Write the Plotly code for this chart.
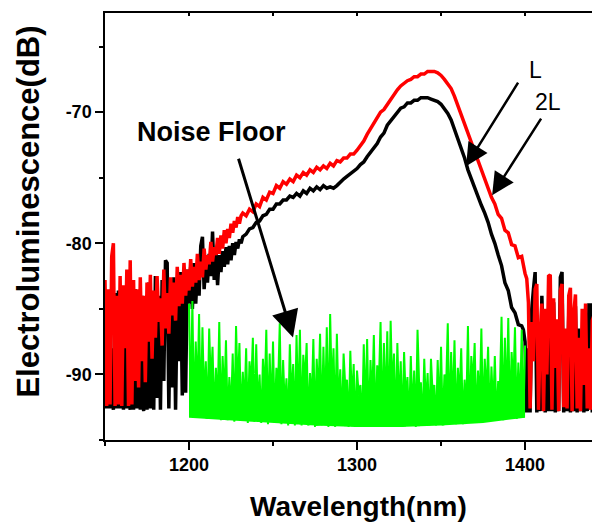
import numpy as np
import plotly.graph_objects as go

# ---------------- data ----------------
# red curve ("2L"), noisy left part 1150..1231 nm, 1 nm step
red_left = [-82.8, -92.4, -83.5, -92.3, -81.0, -80.0, -92.4, -84.0, -92.3, -82.5,
            -92.4, -83.2, -88.0, -82.0, -92.4, -81.3, -92.3, -82.8, -90.5, -83.5,
            -91.0, -82.6, -89.0, -84.0, -90.6, -83.0, -87.5, -82.4, -88.8, -83.6,
            -87.2, -82.5, -86.0, -84.2, -87.8, -82.0, -86.5, -83.8, -86.9, -82.6,
            -85.5, -83.0, -85.9, -81.8, -84.8, -82.4, -84.6, -81.5, -84.0, -82.0,
            -83.6, -81.2, -83.3, -81.8, -83.0, -80.8, -82.8, -81.4, -82.6, -80.4,
            -82.0, -80.9, -81.6, -79.9, -81.4, -80.3, -80.9, -79.6, -80.8, -79.4,
            -80.4, -79.0, -80.0, -78.9, -79.6, -78.5, -79.2, -78.3, -78.8, -78.0,
            -78.5, -77.9]
# red smooth part 1232..1398 nm, 2 nm step
red_mid = [-77.7, -77.9, -77.4, -77.6, -77.0, -77.2, -76.5, -76.7, -76.1, -76.2,
           -75.6, -75.8, -75.3, -75.5, -75.1, -75.3, -74.8, -75.0, -74.6, -74.8,
           -74.4, -74.6, -74.2, -74.4, -74.1, -74.3, -73.9, -74.1, -73.7, -73.8,
           -73.5, -73.5, -73.2, -73.2, -72.9, -72.6, -72.2, -71.7, -71.3, -70.8,
           -70.5, -70.0, -69.8, -69.4, -69.0, -68.6, -68.3, -68.0, -67.8, -67.6,
           -67.5, -67.3, -67.3, -67.1, -67.1, -66.9, -66.9, -66.9, -67.0, -67.2,
           -67.5, -67.8, -68.2, -68.8, -69.5, -70.2, -70.9, -71.6, -72.3, -73.0,
           -73.8, -74.5, -75.2, -75.9, -76.5, -77.0, -77.8, -78.1, -79.0, -79.2,
           -80.1, -80.2, -81.1, -81.0]
# red noisy right part 1399..1445 nm, 1 nm step
red_right = [-81.8, -82.3, -82.7, -84.5, -92.6, -86.0, -89.0, -83.5, -83.1, -92.7,
             -87.0, -84.6, -92.8, -85.0, -90.0, -82.5, -82.4, -92.7, -84.2, -89.5,
             -85.8, -92.8, -83.6, -83.1, -92.5, -86.5, -92.6, -84.0, -83.4, -92.8,
             -85.3, -83.9, -92.6, -87.2, -92.8, -85.0, -90.8, -84.6, -92.6, -88.0,
             -92.7, -85.9, -85.5, -92.7, -86.4, -92.5, -83.6]

# black curve ("L")
black_left = [-86.0, -92.6, -84.5, -92.6, -88.0, -92.7, -83.8, -92.6, -83.6, -92.6,
              -85.5, -92.7, -84.2, -92.6, -87.0, -92.7, -85.0, -92.7, -83.5, -92.6,
              -86.2, -92.7, -84.0, -92.8, -85.5, -92.7, -83.0, -92.6, -84.8, -92.7,
              -82.5, -91.8, -84.0, -92.7, -82.8, -90.5, -81.3, -81.5, -92.6, -83.5,
              -91.0, -82.6, -92.7, -84.0, -89.0, -82.2, -91.6, -83.0, -91.4, -82.0,
              -84.6, -81.8, -85.0, -81.5, -84.6, -81.9, -84.0, -80.2, -79.5, -83.5,
              -81.5, -83.0, -80.8, -82.5, -79.1, -82.8, -80.6, -83.2, -80.9, -82.2,
              -80.6, -81.8, -80.3, -81.6, -80.2, -81.3, -80.0, -80.9, -79.9, -80.4,
              -79.7, -80.0]
black_mid = [-79.5, -79.3, -78.9, -78.8, -78.4, -78.3, -77.9, -77.8, -77.4, -77.4,
             -77.0, -77.0, -76.7, -76.7, -76.4, -76.5, -76.2, -76.4, -76.0, -76.2,
             -75.8, -76.0, -75.7, -75.9, -75.6, -75.8, -75.7, -75.8, -75.6, -75.3,
             -75.1, -74.9, -74.7, -74.5, -74.3, -74.0, -73.8, -73.4, -73.1, -72.7,
             -72.4, -71.9, -71.6, -71.0, -70.7, -70.3, -70.1, -69.7, -69.6, -69.3,
             -69.3, -69.1, -69.1, -68.9, -68.9, -68.9, -69.0, -69.1, -69.2, -69.4,
             -69.7, -70.1, -70.6, -71.3, -72.1, -72.8, -73.5, -74.4, -75.1, -75.8,
             -76.5, -77.1, -77.7, -78.4, -79.3, -80.0, -80.9, -81.7, -83.0, -83.6,
             -84.9, -85.3, -86.2, -86.3]
black_right = [-86.6, -87.5, -92.9, -88.0, -92.9, -85.0, -83.5, -82.2, -92.9, -86.5,
               -92.8, -84.0, -89.0, -92.9, -85.5, -92.8, -87.0, -92.8, -84.5, -92.9,
               -86.0, -92.8, -82.6, -82.2, -92.9, -88.0, -92.8, -85.5, -92.9, -87.5,
               -92.8, -84.8, -92.9, -86.5, -92.8, -88.5, -92.9, -86.0, -92.8, -84.7,
               -84.7, -92.9, -87.0, -92.8, -83.8, -92.9, -86.0]

# green noise floor: spike tops at 1200..1400 (2 nm), dips at 1201..1399 (2 nm)
green_tops = [-84.6, -84.4, -87.5, -85.4, -86.4, -89.0, -86.5, -87.9, -89.5, -86.0,
              -88.6, -87.4, -90.2, -88.4, -86.3, -87.6, -89.8, -88.0, -89.0, -87.2,
              -87.7, -90.0, -88.8, -86.6, -88.4, -87.5, -89.5, -86.1, -88.9, -90.3,
              -87.7, -89.2, -87.0, -86.6, -88.5, -87.6, -89.9, -87.3, -88.8, -86.9,
              -87.9, -86.4, -85.4, -88.0, -86.9, -89.6, -88.4, -90.4, -88.2, -89.2,
              -89.7, -90.8, -87.7, -87.3, -88.9, -87.0, -89.3, -86.0, -87.6, -86.7,
              -85.9, -88.4, -87.6, -89.0, -88.3, -90.2, -88.6, -89.7, -86.6, -90.6,
              -88.8, -89.9, -88.8, -90.8, -88.9, -87.9, -90.0, -86.1, -88.3, -87.4,
              -89.5, -88.0, -90.4, -86.3, -88.6, -87.6, -89.7, -86.5, -88.8, -87.9,
              -89.4, -88.6, -90.5, -85.6, -87.2, -85.7, -88.3, -86.4, -89.1, -86.6,
              -87.8]
green_dips = [-92.8, -93.2, -91.5, -93.3, -92.0, -93.4, -90.8, -93.3, -92.6, -93.5,
              -91.8, -93.5, -92.9, -93.6, -91.2, -93.5, -92.4, -93.7, -90.9, -93.6,
              -92.7, -93.7, -91.6, -93.8, -92.9, -93.7, -91.0, -93.8, -92.5, -93.9,
              -91.9, -93.9, -92.8, -93.9, -90.6, -93.9, -92.3, -94.0, -91.7, -93.9,
              -92.9, -94.0, -91.4, -94.0, -92.6, -93.9, -90.9, -94.0, -92.2, -94.0,
              -91.6, -94.0, -93.0, -94.0, -92.1, -94.0, -90.7, -94.0, -92.8, -94.0,
              -91.3, -94.0, -92.5, -94.0, -91.9, -93.9, -93.0, -94.0, -90.9, -93.9,
              -92.4, -93.9, -91.5, -93.9, -92.9, -93.9, -91.1, -93.8, -92.6, -93.8,
              -91.7, -93.8, -92.9, -93.7, -90.8, -93.7, -92.3, -93.6, -91.6, -93.6,
              -92.8, -93.5, -91.2, -93.5, -92.5, -93.4, -90.9, -93.4, -92.7, -93.3]
floor_x = [1200, 1225, 1250, 1275, 1300, 1325, 1350, 1375, 1400]
floor_y = [-93.3, -93.5, -93.7, -93.9, -94.0, -94.0, -93.9, -93.7, -93.3]

y_tick_vals = [-90, -80, -70]
y_tick_text = ['-90', '-80', '-70']
x_tick_vals = [1200, 1300, 1400]
x_tick_text = ['1200', '1300', '1400']

# ---------------- assemble series ----------------
def series(left, mid, right):
    xl = 1150 + np.arange(len(left))
    xm = 1232 + 2 * np.arange(len(mid))
    xr = 1399 + np.arange(len(right))
    return np.concatenate([xl, xm, xr]), np.array(left + mid + right)

rx, ry = series(red_left, red_mid, red_right)
bx, by = series(black_left, black_mid, black_right)

gx, gy = [], []
for i, t in enumerate(green_tops):
    gx.append(1200 + 2 * i)
    gy.append(t)
    if i < len(green_dips):
        gx.append(1201 + 2 * i)
        gy.append(green_dips[i])

XR = [1150, 1444.6]
YR = [-95, -62.44]
FONT = "Liberation Sans, Arial, sans-serif"
GREEN = '#00ff00'

fig = go.Figure()
fig.add_trace(go.Scatter(x=bx, y=by, mode='lines', line=dict(color='black', width=3.5), hoverinfo='skip'))
fig.add_trace(go.Scatter(x=rx, y=ry, mode='lines', line=dict(color='#ff0000', width=3.5), hoverinfo='skip'))
fig.add_trace(go.Scatter(x=floor_x, y=floor_y, mode='lines', line=dict(color=GREEN, width=0), hoverinfo='skip'))
fig.add_trace(go.Scatter(x=gx, y=gy, mode='lines', line=dict(color=GREEN, width=2),
                         fill='tonexty', fillcolor=GREEN, hoverinfo='skip'))
# invisible trace to activate the top axis
fig.add_trace(go.Scatter(x=[XR[0]], y=[YR[0]], xaxis='x2', mode='lines', line=dict(width=0),
                         hoverinfo='skip', showlegend=False))

ann = []
# axis titles
ann.append(dict(text='<b>Electroluminescence(dB)</b>', xref='paper', yref='paper', x=-0.1535, y=0.535,
                textangle=-90, showarrow=False, xanchor='center', yanchor='middle',
                font=dict(family=FONT, size=31, color='black')))
ann.append(dict(text='<b>Wavelength(nm)</b>', xref='paper', yref='paper', x=0.512, y=-0.155,
                showarrow=False, xanchor='center', yanchor='middle',
                font=dict(family=FONT, size=28, color='black')))
# labels
ann.append(dict(text='<b>Noise Floor</b>', x=1213.1, y=-71.53, xref='x', yref='y', showarrow=False,
                xanchor='center', yanchor='middle',
                font=dict(family=FONT, size=27, color='black')))
ann.append(dict(text='L', x=1406, y=-66.8, xref='x', yref='y', showarrow=False,
                xanchor='center', yanchor='middle', font=dict(family=FONT, size=23, color='black')))
ann.append(dict(text='2L', x=1413.7, y=-69.24, xref='x', yref='y', showarrow=False,
                xanchor='center', yanchor='middle', font=dict(family=FONT, size=23, color='black')))
# arrows
for (tx, ty, hx, hy, w) in [(1229.2, -73.44, 1261.9, -87.18, 3),
                            (1396.4, -67.63, 1364.9, -74.12, 2.5),
                            (1410.1, -70.38, 1380.4, -76.34, 2.5)]:
    ann.append(dict(text='', x=hx, y=hy, ax=tx, ay=ty, xref='x', yref='y', axref='x', ayref='y',
                    showarrow=True, arrowhead=2, arrowsize=1.8, arrowwidth=w, arrowcolor='black',
                    standoff=0, startstandoff=0))

tickfont = dict(family=FONT, size=18, color='black')

# the page body adds an 8 px margin, so the figure is sized to end at the window edge
fig.update_layout(
    width=592, height=517,
    margin=dict(l=97, r=0, t=5, b=85),
    paper_bgcolor='white', plot_bgcolor='white',
    showlegend=False,
    annotations=ann,
    xaxis=dict(range=XR, showgrid=False, zeroline=False, showline=True, linecolor='black', linewidth=1.5,
               ticks='outside', ticklen=8, tickwidth=1.5, tickcolor='black',
               tickmode='array', tickvals=x_tick_vals, ticktext=['<b>%s</b>' % t for t in x_tick_text],
               tickfont=tickfont,
               minor=dict(tickmode='array', tickvals=[1150, 1250, 1350], ticklen=4, tickwidth=1.5,
                          tickcolor='black', ticks='outside')),
    xaxis2=dict(range=XR, overlaying='x', side='top', showgrid=False, zeroline=False, showline=True,
                linecolor='black', linewidth=1.5, ticks='inside', ticklen=3, tickwidth=1.5,
                tickcolor='black', tickmode='linear', tick0=1150, dtick=50, showticklabels=False),
    yaxis=dict(range=YR, showgrid=False, zeroline=False, showline=True, linecolor='black', linewidth=1.5,
               ticks='outside', ticklen=8, tickwidth=1.5, tickcolor='black',
               tickmode='array', tickvals=y_tick_vals, ticktext=['<b>%s</b>' % t for t in y_tick_text],
               tickfont=tickfont,
               minor=dict(tickmode='array', tickvals=[-95, -85, -75, -65], ticklen=4, tickwidth=1.5,
                          tickcolor='black', ticks='outside')),
)

fig.write_html("out.html")
